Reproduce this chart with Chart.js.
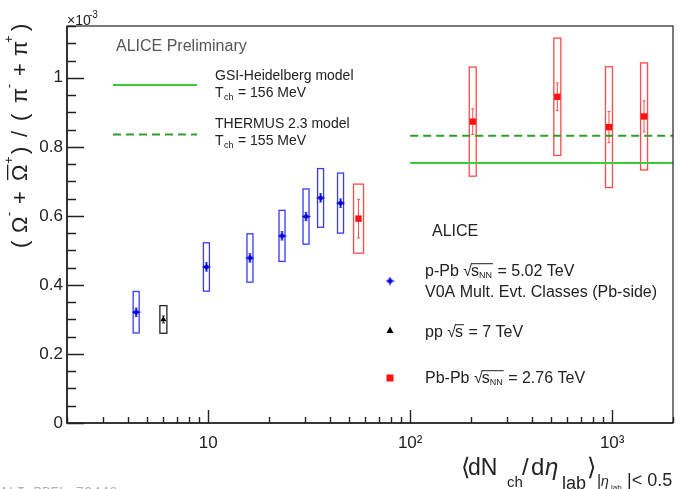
<!DOCTYPE html>
<html>
<head>
<meta charset="utf-8">
<script src="https://cdn.jsdelivr.net/npm/chart.js@4.4.0/dist/chart.umd.min.js"></script>
<style>
  html, body { margin: 0; padding: 0; background: #fff; }
  #wrap { width: 683px; height: 489px; }
</style>
</head>
<body>
<div id="wrap"><canvas id="chart" width="683" height="489"></canvas></div>
<script>
// Omega / pi ratio vs multiplicity - ALICE preliminary style plot

const FONT = "'Liberation Sans', Arial, 'DejaVu Sans', sans-serif";

// p-Pb 5.02 TeV (V0A classes)
const ppbX = [4.4, 9.8, 16.1, 23.2, 30.5, 36.0, 45.2];
const ppbY = [0.321, 0.452, 0.478, 0.542, 0.598, 0.652, 0.637];
const ppbStat = [0.012, 0.012, 0.012, 0.012, 0.012, 0.012, 0.012];
const ppbSys = [0.06, 0.07, 0.07, 0.074, 0.08, 0.085, 0.087];

// pp 7 TeV
const ppX = [6.0];
const ppY = [0.30];
const ppStat = [0.01];
const ppSys = [0.04];

// Pb-Pb 2.76 TeV
const pbpbX = [55.5, 204, 535, 964, 1438];
const pbpbY = [0.592, 0.873, 0.945, 0.857, 0.888];
const pbpbStat = [0.056, 0.037, 0.04, 0.045, 0.045];
const pbpbSys = [0.1, 0.158, 0.17, 0.175, 0.155];

// thermal model values (start at dN/deta = 100)
const modelX = [100, 2000];
const gsiValue = 0.753;
const thermusValue = 0.832;

// axes
const xTickValues = [10, 100, 1000];
const xTickLabels = ['10', '10\u00B2', '10\u00B3'];
const yTickValues = [0, 0.2, 0.4, 0.6, 0.8, 1.0];
const yTickLabels = ['0', '0.2', '0.4', '0.6', '0.8', '1'];

const BLUE = '#0000dd';
const RED = '#ff1010';

// small four point star for the p-Pb points
function makeStar(color) {
  const c = document.createElement('canvas');
  c.width = 9; c.height = 9;
  const g = c.getContext('2d');
  g.fillStyle = color;
  g.beginPath();
  g.moveTo(4.5, 0); g.lineTo(6, 3); g.lineTo(9, 4.5); g.lineTo(6, 6);
  g.lineTo(4.5, 9); g.lineTo(3, 6); g.lineTo(0, 4.5); g.lineTo(3, 3);
  g.closePath(); g.fill();
  return c;
}
const starImg = makeStar(BLUE);

const toPts = (xs, ys) => xs.map((x, i) => ({ x: x, y: ys[i] }));

// boxes (sys) and bars (stat) - drawn from the scales
const errorSeries = [
  { x: ppbX, y: ppbY, stat: ppbStat, sys: ppbSys, color: '#3a3aee', half: 3 },
  { x: ppX, y: ppY, stat: ppStat, sys: ppSys, color: '#222', half: 3.5 },
  { x: pbpbX, y: pbpbY, stat: pbpbStat, sys: pbpbSys, color: '#ff4a4a', half: 3.5 }
];

const errorPlugin = {
  id: 'errors',
  beforeDatasetsDraw(chart) {
    const { ctx, scales: { x, y } } = chart;
    ctx.save();
    errorSeries.forEach(s => {
      s.x.forEach((xv, i) => {
        const px = x.getPixelForValue(xv);
        const top = y.getPixelForValue(s.y[i] + s.sys[i]);
        const bot = y.getPixelForValue(s.y[i] - s.sys[i]);
        // first Pb-Pb box is a bit wider
        const hw = (s.x === pbpbX && i === 0) ? 5 : s.half;
        ctx.strokeStyle = s.color;
        ctx.lineWidth = 1.3;
        ctx.strokeRect(px - hw, top, hw * 2, bot - top);
        // stat bar
        const st = y.getPixelForValue(s.y[i] + s.stat[i]);
        const sb = y.getPixelForValue(s.y[i] - s.stat[i]);
        ctx.lineWidth = 1;
        ctx.beginPath();
        ctx.moveTo(px, st); ctx.lineTo(px, sb);
        ctx.moveTo(px - 1.5, st); ctx.lineTo(px + 1.5, st);
        ctx.moveTo(px - 1.5, sb); ctx.lineTo(px + 1.5, sb);
        ctx.stroke();
      });
    });
    ctx.restore();
  }
};

// text pieces at given offsets (x along the text, dy for sub/superscripts)
function drawAt(ctx, parts, ox, oy) {
  parts.forEach(p => {
    ctx.font = (p.italic ? 'italic ' : '') + p.size + 'px ' + FONT;
    const py = oy + (p.dy || 0);
    ctx.fillText(p.t, ox + p.x, py);
    if (p.over) {
      const w = ctx.measureText(p.t).width;
      ctx.fillRect(ox + p.x + 1, py - p.over, w - 1, 1.3);
    }
  });
}

// sqrt(s) with overline, returns end x
function drawSqrt(ctx, x, y, size, withNN) {
  ctx.font = size + 'px ' + FONT;
  const rw = ctx.measureText('\u221A').width;
  ctx.fillText('\u221A', x, y);
  const cx = x + rw - 1;
  ctx.fillText('s', cx, y);
  let end = cx + ctx.measureText('s').width;
  if (withNN) {
    ctx.font = '9px ' + FONT;
    ctx.fillText('NN', end, y + 2);
    end += ctx.measureText('NN').width;
  }
  ctx.fillRect(cx, y - size * 0.8, end - cx + 1, 1);
  return end;
}

function legendLine(ctx, x, y, prefix, nn, suffix) {
  ctx.font = '16px ' + FONT;
  ctx.fillText(prefix, x, y);
  let ex = x + ctx.measureText(prefix).width;
  ex = drawSqrt(ctx, ex, y, 16, nn);
  ctx.font = '16px ' + FONT;
  ctx.fillText(suffix, ex + 1, y);
}

const decorPlugin = {
  id: 'decor',
  afterDraw(chart) {
    const { ctx, chartArea: a, scales: { x, y } } = chart;
    ctx.save();

    // frame
    ctx.strokeStyle = '#333';
    ctx.lineWidth = 1.3;
    ctx.strokeRect(a.left, a.top, a.right - a.left, a.bottom - a.top);
    ctx.lineWidth = 1.6;
    ctx.strokeStyle = '#222';
    ctx.beginPath();
    ctx.moveTo(a.left, a.top); ctx.lineTo(a.left, a.bottom); ctx.lineTo(a.right, a.bottom);
    ctx.stroke();

    // tick marks (inside, ROOT style)
    ctx.lineWidth = 1.4;
    ctx.beginPath();
    for (let v = 0; v <= 1.1501; v += 0.05) {
      const py = Math.round(y.getPixelForValue(v)) + 0.5;
      const major = Math.abs(v / 0.2 - Math.round(v / 0.2)) < 1e-6;
      ctx.moveTo(a.left, py); ctx.lineTo(a.left + (major ? 17 : 9), py);
    }
    for (let dec = 1; dec <= 1000; dec *= 10) {
      for (let m = 1; m <= 9; m++) {
        const v = m * dec;
        if (v < 2 || v > 2000) continue;
        const px = Math.round(x.getPixelForValue(v)) + 0.5;
        ctx.moveTo(px, a.bottom); ctx.lineTo(px, a.bottom - (m === 1 ? 13 : 6));
      }
    }
    ctx.stroke();

    ctx.fillStyle = '#222';
    ctx.textBaseline = 'alphabetic';
    ctx.textAlign = 'left';

    // x10^-3
    drawAt(ctx, [
      { t: '\u00D710', size: 14, x: 0 },
      { t: '-3', size: 10, x: 22, dy: -7 }
    ], 67, 25);

    // y axis title, reads bottom to top
    ctx.save();
    ctx.translate(27, 248);
    ctx.rotate(-Math.PI / 2);
    drawAt(ctx, [
      { t: '(', size: 22, x: 0 },
      { t: '\u03A9', size: 22, x: 15 },
      { t: '-', size: 13, x: 32, dy: -14 },
      { t: '+', size: 22, x: 44 },
      { t: '\u03A9', size: 22, x: 67, over: 20 },
      { t: '+', size: 13, x: 84, dy: -14 },
      { t: ')', size: 22, x: 94 },
      { t: '/', size: 22, x: 111 },
      { t: '(', size: 22, x: 127 },
      { t: '\u03C0', size: 22, x: 145 },
      { t: '-', size: 13, x: 160, dy: -14 },
      { t: '+', size: 22, x: 172 },
      { t: '\u03C0', size: 22, x: 192 },
      { t: '+', size: 13, x: 205, dy: -14 },
      { t: ')', size: 22, x: 217 }
    ], 0, 0);
    ctx.restore();

    // x axis title
    drawAt(ctx, [
      { t: '\u27E8', size: 24, x: 0 },
      { t: 'dN', size: 23, x: 7 },
      { t: 'ch', size: 15, x: 46, dy: 12 },
      { t: '/', size: 24, x: 61 },
      { t: 'd', size: 24, x: 70 },
      { t: '\u03B7', size: 24, x: 84, italic: true },
      { t: 'lab', size: 18, x: 101, dy: 14 },
      { t: '\u27E9', size: 24, x: 126 },
      { t: '|', size: 16, x: 136, dy: 11 },
      { t: '\u03B7', size: 14, x: 140, dy: 11, italic: true },
      { t: 'lab', size: 8, x: 150, dy: 15 },
      { t: '|< 0.5', size: 18, x: 166, dy: 11 }
    ], 461, 475);

    // ALICE Preliminary + model legend
    ctx.fillStyle = '#555';
    ctx.font = '16px ' + FONT;
    ctx.fillText('ALICE Preliminary', 116, 51);

    ctx.lineWidth = 2;
    ctx.strokeStyle = '#38cc38';
    ctx.beginPath(); ctx.moveTo(113, 85); ctx.lineTo(197, 85); ctx.stroke();
    ctx.strokeStyle = '#2e9e2e';
    ctx.setLineDash([8, 5]);
    ctx.beginPath(); ctx.moveTo(113, 134.5); ctx.lineTo(197, 134.5); ctx.stroke();
    ctx.setLineDash([]);

    ctx.fillStyle = '#222';
    ctx.font = '14px ' + FONT;
    ctx.fillText('GSI-Heidelberg model', 215, 80);
    drawAt(ctx, [{ t: 'T', size: 14, x: 0 }, { t: 'ch', size: 9, x: 9, dy: 3 }, { t: '= 156 MeV', size: 14, x: 23 }], 215, 97);
    ctx.font = '14px ' + FONT;
    ctx.fillText('THERMUS 2.3 model', 215, 128);
    drawAt(ctx, [{ t: 'T', size: 14, x: 0 }, { t: 'ch', size: 9, x: 9, dy: 3 }, { t: '= 155 MeV', size: 14, x: 23 }], 215, 145);

    // data legend
    ctx.font = '16px ' + FONT;
    ctx.fillStyle = '#222';
    ctx.fillText('ALICE', 432, 236);

    ctx.drawImage(starImg, 390 - 4.5, 281 - 4.5);
    legendLine(ctx, 425, 276, 'p-Pb ', true, ' = 5.02 TeV');
    ctx.font = '16px ' + FONT;
    ctx.fillText('V0A Mult. Evt. Classes (Pb-side)', 425, 297);

    ctx.fillStyle = '#000';
    ctx.beginPath(); ctx.moveTo(390, 326.5); ctx.lineTo(393.5, 333); ctx.lineTo(386.5, 333); ctx.closePath(); ctx.fill();
    ctx.fillStyle = '#222';
    legendLine(ctx, 425, 337, 'pp ', false, ' = 7 TeV');

    ctx.fillStyle = RED;
    ctx.fillRect(386.5, 374.5, 7, 7);
    ctx.fillStyle = '#222';
    legendLine(ctx, 425, 383, 'Pb-Pb ', true, ' = 2.76 TeV');

    // watermark, mostly cut at the bottom
    ctx.fillStyle = '#b0b0b0';
    ctx.font = '14px "Liberation Mono", monospace';
    ctx.fillText('ALI-PREL-73440', 0, 497);

    ctx.restore();
  }
};

const chart = new Chart(document.getElementById('chart'), {
  type: 'scatter',
  data: {
    datasets: [
      {
        type: 'line', label: 'GSI-Heidelberg', data: toPts(modelX, [gsiValue, gsiValue]),
        borderColor: '#38cc38', borderWidth: 2, pointRadius: 0, fill: false
      },
      {
        type: 'line', label: 'THERMUS 2.3', data: toPts(modelX, [thermusValue, thermusValue]),
        borderColor: '#2e9e2e', borderWidth: 2, borderDash: [8, 5], pointRadius: 0, fill: false
      },
      {
        label: 'p-Pb', data: toPts(ppbX, ppbY),
        pointStyle: starImg, pointRadius: 4.5
      },
      {
        label: 'pp', data: toPts(ppX, ppY),
        pointStyle: 'triangle', pointRadius: 3.5, backgroundColor: '#000', borderColor: '#000', borderWidth: 0
      },
      {
        label: 'Pb-Pb', data: toPts(pbpbX, pbpbY),
        pointStyle: 'rect', pointRadius: 4.5, backgroundColor: RED, borderColor: RED, borderWidth: 0
      }
    ]
  },
  options: {
    responsive: false,
    animation: false,
    layout: { padding: { top: 26, right: 10, left: 0, bottom: 0 } },
    plugins: { legend: { display: false }, tooltip: { enabled: false } },
    scales: {
      x: {
        type: 'logarithmic', min: 2, max: 2000, bounds: 'data',
        afterFit: s => { s.height = 66; },
        afterBuildTicks: s => { s.ticks = xTickValues.map(v => ({ value: v, major: true })); },
        grid: { display: false, drawTicks: false },
        border: { display: false },
        ticks: {
          autoSkip: false, maxRotation: 0, padding: 10, color: '#222',
          font: { family: FONT, size: 17 },
          callback: (v, i) => xTickLabels[i]
        }
      },
      y: {
        type: 'linear', min: 0, max: 1.15, bounds: 'data',
        afterFit: s => { s.width = 67; },
        afterBuildTicks: s => { s.ticks = yTickValues.map(v => ({ value: v })); },
        grid: { display: false, drawTicks: false },
        border: { display: false },
        ticks: {
          padding: 4, color: '#222',
          font: { family: FONT, size: 17 },
          callback: (v, i) => yTickLabels[i]
        }
      }
    }
  },
  plugins: [errorPlugin, decorPlugin]
});
</script>
</body>
</html>
